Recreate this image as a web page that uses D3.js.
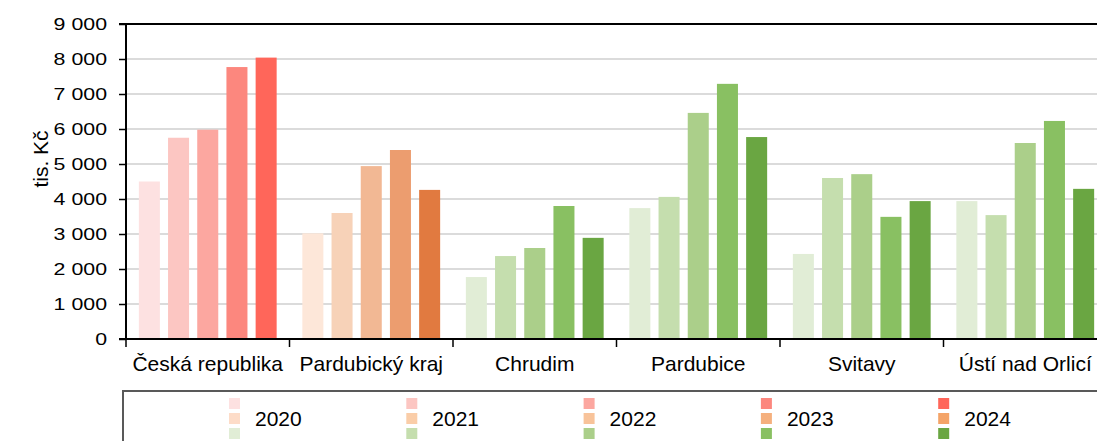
<!DOCTYPE html>
<html>
<head>
<meta charset="utf-8">
<script src="https://cdn.jsdelivr.net/npm/d3@7"></script>
<style>
  body { margin: 0; background: #fff; }
  text { font-family: "Liberation Sans", Arial, sans-serif; fill: #000; }
</style>
</head>
<body>
<svg id="chart"></svg>
<script>
// data (tis. Kč)
const categories = ['Česká republika', 'Pardubický kraj', 'Chrudim', 'Pardubice', 'Svitavy', 'Ústí nad Orlicí'];
const years = ['2020', '2021', '2022', '2023', '2024'];
const values = [
  [4500, 5750, 5980, 7770, 8040],
  [3020, 3600, 4940, 5400, 4260],
  [1770, 2370, 2600, 3800, 2890],
  [3740, 4060, 6460, 7290, 5770],
  [2430, 4600, 4710, 3490, 3940],
  [3940, 3540, 5600, 6230, 4290]
];
const yTicks = [0, 1000, 2000, 3000, 4000, 5000, 6000, 7000, 8000, 9000];

// colours per palette: reds for the republic, oranges for the region, greens for districts
const reds = ['#fde1e1', '#fcc6c2', '#fca7a0', '#fc877e', '#ff665a'];
const oranges = ['#fde7d9', '#f7d2b8', '#f2b894', '#ec9d6f', '#e17a40'];
const greens = ['#e1edd6', '#c5deae', '#abcf8a', '#89c062', '#6aa642'];
const legendOranges = ['#fddcc8', '#facda8', '#f8c39a', '#f5b07e', '#f4a468'];
const paletteOf = i => i === 0 ? reds : (i === 1 ? oranges : greens);

const width = 1097, height = 441;
const margin = {top: 24, left: 126, bottom: 102};
const plotH = height - margin.top - margin.bottom; // 315

const svg = d3.select('#chart').attr('width', width).attr('height', height);

// category band extends a little past the right edge, like the original crop
const xScale = d3.scaleBand()
    .domain(categories)
    .range([margin.left, margin.left + 163.5 * categories.length]);
const xInner = d3.scaleBand()
    .domain(years)
    .range([0, xScale.bandwidth()])
    .paddingInner(0.28)
    .paddingOuter(0.44);
const yScale = d3.scaleLinear()
    .domain([0, 9000])
    .range([margin.top + plotH, margin.top]);

// gridlines
svg.append('g')
  .selectAll('line')
  .data(yTicks.slice(1, -1))
  .join('line')
    .attr('x1', margin.left)
    .attr('x2', width)
    .attr('y1', d => yScale(d))
    .attr('y2', d => yScale(d))
    .attr('stroke', '#cfcfcf')
    .attr('stroke-width', 1.5);

// bars
const groups = svg.append('g')
  .selectAll('g')
  .data(categories)
  .join('g')
    .attr('transform', d => `translate(${xScale(d)},0)`);

groups.selectAll('rect')
  .data((d, i) => values[i].map((v, j) => ({v, year: years[j], cat: i, j})))
  .join('rect')
    .attr('x', d => xInner(d.year))
    .attr('width', xInner.bandwidth())
    .attr('y', d => yScale(d.v))
    .attr('height', d => yScale(0) - yScale(d.v))
    .attr('fill', d => paletteOf(d.cat)[d.j]);

// top frame line
svg.append('line')
    .attr('x1', margin.left - 7).attr('x2', width)
    .attr('y1', margin.top).attr('y2', margin.top)
    .attr('stroke', '#000').attr('stroke-width', 2);

// y axis
const yAxis = d3.axisLeft(yScale)
    .tickValues(yTicks)
    .tickSize(7)
    .tickPadding(0)
    .tickFormat(d => d3.format(',')(d).replace(/,/g, ' '));
const yAxisG = svg.append('g')
    .attr('transform', `translate(${margin.left},0)`)
    .call(yAxis);
yAxisG.select('.domain').remove();
yAxisG.selectAll('.tick line').attr('stroke', '#000').attr('stroke-width', 1.5);
yAxisG.selectAll('.tick text')
    .style('font-size', '16.3px')
    .style('font-family', '"Liberation Sans", Arial, sans-serif')
    .attr('x', -19 / 1.31)
    .attr('dy', '0.36em')
    .attr('transform', 'scale(1.31,1)');
svg.append('line')
    .attr('x1', margin.left).attr('x2', margin.left)
    .attr('y1', margin.top - 1).attr('y2', yScale(0) + 1)
    .attr('stroke', '#000').attr('stroke-width', 2);

// x axis
const xAxisG = svg.append('g');
xAxisG.append('line')
    .attr('x1', margin.left - 7).attr('x2', width)
    .attr('y1', yScale(0)).attr('y2', yScale(0))
    .attr('stroke', '#000').attr('stroke-width', 2);
xAxisG.selectAll('.cat-tick')
  .data(categories)
  .join('line')
    .attr('class', 'cat-tick')
    .attr('x1', d => xScale(d)).attr('x2', d => xScale(d))
    .attr('y1', yScale(0)).attr('y2', yScale(0) + 8)
    .attr('stroke', '#000').attr('stroke-width', 1.5);
xAxisG.selectAll('.cat-label')
  .data(categories)
  .join('text')
    .attr('class', 'cat-label')
    .attr('x', d => xScale(d) + xScale.bandwidth() / 2)
    .attr('y', 371)
    .attr('text-anchor', 'middle')
    .style('font-size', '21px')
    .text(d => d);

// axis title
svg.append('text')
    .attr('transform', 'translate(48,159) rotate(-90)')
    .attr('text-anchor', 'middle')
    .style('font-size', '21px')
    .text('tis. Kč');

// legend box (cut off by the picture edge)
svg.append('rect')
    .attr('x', 123).attr('y', 391)
    .attr('width', 1000).attr('height', 80)
    .attr('fill', 'none')
    .attr('stroke', '#595959')
    .attr('stroke-width', 2);

const legendX = d3.scaleBand()
    .domain(years)
    .range([229, 229 + 177.3 * years.length]);
const legendRows = [reds, legendOranges, greens];

const legendItems = svg.append('g')
  .selectAll('g')
  .data(years)
  .join('g')
    .attr('transform', d => `translate(${legendX(d)},0)`);

legendItems.selectAll('rect')
  .data((d, j) => legendRows.map((p, r) => ({c: p[j], r})))
  .join('rect')
    .attr('x', 0)
    .attr('y', d => 398 + d.r * 15)
    .attr('width', 11)
    .attr('height', 11)
    .attr('fill', d => d.c);

legendItems.append('text')
    .attr('x', 26)
    .attr('y', 426)
    .style('font-size', '21px')
    .text(d => d);
</script>
</body>
</html>
